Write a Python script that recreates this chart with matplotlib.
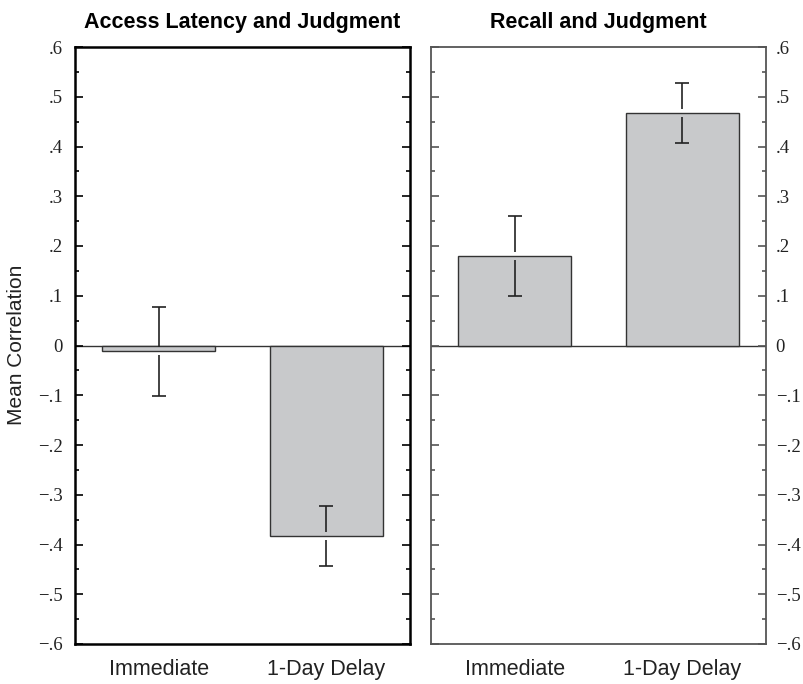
# Two-panel bar chart: mean correlations with judgment
import matplotlib.pyplot as plt
from matplotlib.ticker import MultipleLocator, FuncFormatter

# Data
conditions = ['Immediate', '1-Day Delay']
panel_titles = ['Access Latency and Judgment', 'Recall and Judgment']
latency_means = [-0.012, -0.383]
latency_errs = [0.090, 0.060]
recall_means = [0.180, 0.468]
recall_errs = [0.080, 0.060]
y_ticks = [-0.6, -0.5, -0.4, -0.3, -0.2, -0.1, 0, 0.1, 0.2, 0.3, 0.4, 0.5, 0.6]

bar_color = '#c8c9cb'
edge_color = '#333333'
positions = [0.25, 0.75]
gap = 0.008


def fmt_tick(v, pos):
    if abs(v) < 1e-9:
        return '0'
    s = f'{abs(v):.1f}'.lstrip('0')
    return ('\u2212' + s) if v < 0 else s


fig = plt.figure(figsize=(8.04, 6.84), dpi=100)
ax1 = fig.add_axes([75 / 804, 40 / 684, 335 / 804, 597 / 684])
ax2 = fig.add_axes([431 / 804, 40 / 684, 335 / 804, 597 / 684])

panels = [(ax1, latency_means, latency_errs, 'black', 1.8),
          (ax2, recall_means, recall_errs, '#555555', 1.3)]

for i, (ax, means, errs, spine_col, spine_lw) in enumerate(panels):
    ax.axhline(0, color='#333333', linewidth=1.0, zorder=1)
    ax.bar(positions, means, width=0.337, color=bar_color,
           edgecolor=edge_color, linewidth=1.0, zorder=2)

    # error bars, with a small break where they meet the bar edge
    for x, v, e in zip(positions, means, errs):
        ax.vlines(x, v + gap, v + e, color='#222222', linewidth=1.2, zorder=3)
        ax.vlines(x, v - e, v - gap, color='#222222', linewidth=1.2, zorder=3)
        ax.errorbar(x, v, yerr=e, fmt='none', ecolor='#222222',
                    elinewidth=0, capsize=5, capthick=1.2, zorder=3)

    ax.set_xlim(0, 1)
    ax.set_ylim(-0.6, 0.6)
    ax.set_xticks(positions)
    ax.set_xticklabels(conditions, fontsize=15.5, family='Liberation Sans',
                       color='#222222')
    ax.tick_params(axis='x', length=0, pad=11)

    ax.set_yticks(y_ticks)
    ax.yaxis.set_major_formatter(FuncFormatter(fmt_tick))
    ax.yaxis.set_minor_locator(MultipleLocator(0.05))
    ax.tick_params(axis='y', which='both', direction='in', left=True, right=True,
                   color=spine_col, width=1.2)
    ax.tick_params(axis='y', which='major', length=6, labelsize=13.5)
    ax.tick_params(axis='y', which='minor', length=3)
    if i == 1:
        ax.tick_params(axis='y', labelleft=False, labelright=True, pad=7)
    else:
        ax.tick_params(axis='y', pad=9)
    for lab in ax.get_yticklabels():
        lab.set_family('Liberation Serif')
        lab.set_color('#222222')

    for sp in ax.spines.values():
        sp.set_color(spine_col)
        sp.set_linewidth(spine_lw)

    ax.set_title(panel_titles[i], fontsize=15.5, fontweight='bold',
                 family='Liberation Sans', pad=14)

fig.text(17 / 804, 0.5 + (342 - 345) / 684, 'Mean Correlation', rotation=90,
         ha='center', va='center', fontsize=15, family='Liberation Sans',
         color='#222222')

plt.savefig('out.png', dpi=100)
